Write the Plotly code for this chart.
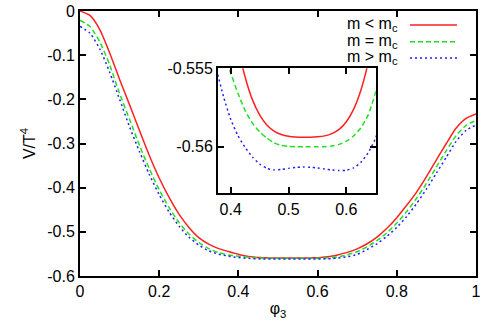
import plotly.graph_objects as go

# phi_3 grid (finer where the inset zooms in)
phi = [0.0, 0.025, 0.05, 0.075, 0.1, 0.125, 0.15, 0.175, 0.2, 0.225, 0.25, 0.275, 0.3, 0.325, 0.35,
       0.375, 0.3875, 0.4, 0.4125, 0.425, 0.4375, 0.45, 0.4625, 0.475, 0.4875, 0.5, 0.5125,
       0.525, 0.5375, 0.55, 0.5625, 0.575, 0.5875, 0.6, 0.6125, 0.625, 0.6375, 0.65,
       0.675, 0.7, 0.725, 0.75, 0.775, 0.8, 0.825, 0.85, 0.875, 0.9, 0.925, 0.95, 0.975, 1.0]

v_below = [0.0, -0.010, -0.042, -0.095, -0.155, -0.212, -0.270, -0.327, -0.378, -0.422, -0.460,
           -0.490, -0.513, -0.528, -0.538,
           -0.54450, -0.54780, -0.55080, -0.55356, -0.55557, -0.55700, -0.55797, -0.55861, -0.55900,
           -0.55922, -0.55933, -0.55938, -0.55940, -0.55940, -0.55937, -0.55931, -0.55917, -0.55890,
           -0.55841, -0.55762, -0.55642, -0.55468, -0.55225,
           -0.5465, -0.5385, -0.5270, -0.5120, -0.4920, -0.4680, -0.4400, -0.4100, -0.3750, -0.3370,
           -0.3000, -0.2650, -0.2430, -0.2330]

v_equal = [-0.021, -0.035, -0.070, -0.122, -0.187, -0.245, -0.304, -0.357, -0.405, -0.445, -0.479,
           -0.505, -0.524, -0.538, -0.547,
           -0.55240, -0.55390, -0.55530, -0.55660, -0.55770, -0.55850, -0.55905, -0.55945, -0.55975,
           -0.55992, -0.55998, -0.56000, -0.56000, -0.56000, -0.56000, -0.56000, -0.55995, -0.55985,
           -0.55965, -0.55932, -0.55880, -0.55800, -0.55660,
           -0.5520, -0.5450, -0.5340, -0.5200, -0.5020, -0.4800, -0.4540, -0.4240, -0.3900, -0.3530,
           -0.3160, -0.2820, -0.2590, -0.2480]

v_above = [-0.035, -0.050, -0.086, -0.139, -0.200, -0.262, -0.318, -0.370, -0.416, -0.455, -0.487,
           -0.512, -0.530, -0.543, -0.5505,
           -0.55500, -0.55680, -0.55825, -0.55930, -0.56005, -0.56065, -0.56110, -0.56138, -0.56148,
           -0.56145, -0.56138, -0.56132, -0.56130, -0.56131, -0.56135, -0.56142, -0.56148, -0.56152,
           -0.56150, -0.56135, -0.56100, -0.56040, -0.55950,
           -0.5565, -0.5510, -0.5400, -0.5270, -0.5100, -0.4900, -0.4650, -0.4360, -0.4030, -0.3670,
           -0.3310, -0.2950, -0.2700, -0.2580]

labels = ["m < m<sub>c</sub>", "m = m<sub>c</sub>", "m > m<sub>c</sub>"]
colors = ["#ff2020", "#20e020", "#2020ff"]
dashes = ["solid", "5px,3px", "2px,3px"]
series = [v_below, v_equal, v_above]

fig = go.Figure()
for ys, c, d, name in zip(series, colors, dashes, labels):
    fig.add_trace(go.Scatter(x=phi, y=ys, mode="lines", name=name, showlegend=False,
                             line=dict(color=c, dash=d, width=1.5, shape="spline", smoothing=0.6)))
    fig.add_trace(go.Scatter(x=phi, y=ys, mode="lines", showlegend=False, xaxis="x2", yaxis="y2",
                             line=dict(color=c, dash=d, width=1.5, shape="spline", smoothing=0.6)))

font = dict(family="Liberation Sans, Arial, sans-serif", size=16, color="black")
ax = dict(showgrid=False, zeroline=False, showline=True, linecolor="black", linewidth=2,
          mirror="ticks", ticks="inside", ticklen=6, tickwidth=1.5, tickcolor="black",
          tickfont=font, automargin=False)

fig.update_layout(
    width=484, height=329,
    margin=dict(l=80, r=8, t=11, b=53),
    plot_bgcolor="white", paper_bgcolor="white",
    font=font,
    xaxis=dict(ax, range=[0, 1], tickvals=[0, 0.2, 0.4, 0.6, 0.8, 1],
               ticktext=["0", "0.2", "0.4", "0.6", "0.8", "1"],
               title=dict(text="φ<sub>3</sub>", font=font, standoff=4)),
    yaxis=dict(ax, range=[-0.6, 0], tickvals=[-0.6, -0.5, -0.4, -0.3, -0.2, -0.1, 0],
               ticktext=["-0.6", "-0.5", "-0.4", "-0.3", "-0.2", "-0.1", "0"],
               title=dict(text="V/T<sup>4</sup>", font=font, standoff=8)),
    xaxis2=dict(ax, domain=[0.3485, 0.747], anchor="y2", range=[0.378, 0.651],
                tickvals=[0.4, 0.5, 0.6], ticktext=["0.4", "0.5", "0.6"]),
    yaxis2=dict(ax, domain=[0.312, 0.784], anchor="x2", range=[-0.56297, -0.555],
                tickvals=[-0.56, -0.555], ticktext=["-0.56", "-0.555"]),
)

# gnuplot-style key: text then line sample
key_y = [25, 41.7, 58]
for name, c, d, yp in zip(labels, colors, dashes, key_y):
    yf = 1 - (yp - 11) / 265
    fig.add_annotation(xref="paper", yref="paper", x=(400 - 80) / 396, y=yf, text=name,
                       showarrow=False, xanchor="right", yanchor="middle", font=font)
    fig.add_shape(type="line", xref="paper", yref="paper",
                  x0=(410 - 80) / 396, x1=(457 - 80) / 396, y0=yf, y1=yf,
                  line=dict(color=c, dash=d, width=1.5))

# drop the browser's default body margin so the figure sits at the page corner
fig.write_html("out.html", config={"displayModeBar": False},
               post_script="document.body.style.margin='0';")
